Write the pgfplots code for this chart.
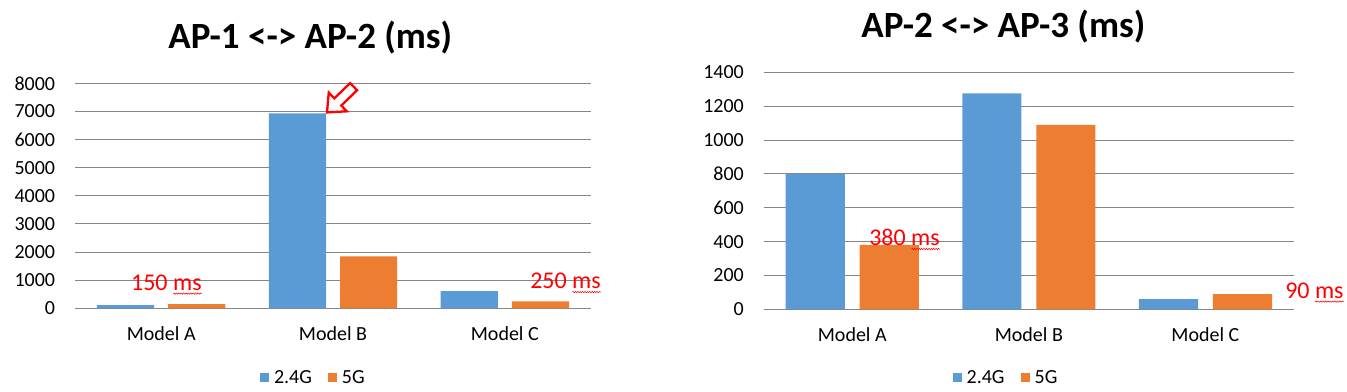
\documentclass[border=0pt]{standalone}
\usepackage{fontspec}
\setmainfont{Carlito}
\usepackage{pgfplots}
\pgfplotsset{compat=1.18}
\usetikzlibrary{decorations.pathmorphing}
\definecolor{cblue}{HTML}{5B9BD5}
\definecolor{corange}{HTML}{ED7D31}
\definecolor{cgrid}{HTML}{868686}
\definecolor{cred}{HTML}{FF0000}

\tikzset{
  redlab/.style={text=cred, font=\fontsize{24}{28}\selectfont, anchor=west, inner sep=0pt},
  wave/.style={cred, line width=0.5pt, decorate, decoration={snake, amplitude=0.7pt, segment length=2.4pt}},
}

\pgfplotsset{
  mystyle/.style={
    scale only axis,
    ymin=0,
    xmin=-0.5, xmax=2.5,
    xtick={0,1,2},
    xticklabels={Model A,Model B,Model C},
    axis line style={draw=none},
    major tick length=0pt,
    ymajorgrids,
    grid style={cgrid, line width=0.9pt},
    tick label style={font=\fontsize{20}{23}\selectfont, text=black},
    /pgf/number format/assume math mode=true,
    /pgf/number format/1000 sep={},
    yticklabel style={anchor=east, inner sep=0pt, xshift=-20pt},
    xticklabel style={anchor=base, inner sep=0pt, yshift=-32.5pt},
    clip=false,
    legend columns=2,
    legend style={draw=none, fill=none, font=\fontsize{20}{23}\selectfont,
      inner sep=0pt, nodes={inner sep=0pt},
      /tikz/every odd column/.append style={column sep=5pt},
      /tikz/every even column/.append style={column sep=16pt}},
    title style={font=\fontsize{37}{42}\selectfont\bfseries, anchor=base, yshift=29pt},
  },
  sq/.style={legend image code/.code={\fill[##1] (0pt,-4.5pt) rectangle (9pt,4.5pt);}},
}

\begin{document}
\begin{tikzpicture}
\useasboundingbox (0,0) rectangle (1347pt,391pt);

% Left chart
\begin{axis}[mystyle,
  at={(75.3pt,82.7pt)}, anchor=south west,
  width=515.4pt, height=225pt,
  ybar=14pt, bar width=57.2pt, sq,
  ymax=8000, ytick={0,1000,...,8000},
  title={AP-1 <-> AP-2 (ms)},
  title style={at={(0.456,1)}},
  legend style={at={(0.460,0)}, anchor=center, yshift=-69.2pt},
]
\addplot[fill=cblue, draw=none] coordinates {(0,117) (1,6930) (2,615)};
\addplot[fill=corange, draw=none] coordinates {(0,150) (1,1850) (2,250)};
\legend{2.4G,5G}
\node[redlab] (a1) at (axis cs:-0.176,917) {150 ms};
\draw[wave] ([xshift=-28.6pt,yshift=-3pt]a1.south east) -- ([yshift=-3pt]a1.south east);
\node[redlab] (a2) at (axis cs:2.147,971) {250 ms};
\draw[wave] ([xshift=-28.6pt,yshift=-3pt]a2.south east) -- ([yshift=-3pt]a2.south east);
\coordinate (tip) at (axis cs:1,6930);
\end{axis}
\begin{scope}[shift={(tip)}, xshift=-6pt, yshift=1pt, rotate=44]
\draw[cred, line width=2.3pt, fill=white, line join=miter]
  (0,0) -- (15pt,13pt) -- (15pt,5pt) -- (37pt,5pt) -- (37pt,-5pt) -- (15pt,-5pt) -- (15pt,-13pt) -- cycle;
\end{scope}

% Right chart
\begin{axis}[mystyle,
  at={(764pt,81.7pt)}, anchor=south west,
  width=529.7pt, height=237pt,
  ybar=14.8pt, bar width=59.2pt, sq,
  ymax=1400, ytick={0,200,...,1400},
  title={AP-2 <-> AP-3 (ms)},
  title style={at={(0.452,1)}},
  legend style={at={(0.455,0)}, anchor=center, yshift=-68.2pt},
]
\addplot[fill=cblue, draw=none] coordinates {(0,800) (1,1275) (2,60)};
\addplot[fill=corange, draw=none] coordinates {(0,380) (1,1090) (2,90)};
\legend{2.4G,5G}
\node[redlab] (b1) at (axis cs:0.095,424) {380 ms};
\draw[wave] ([xshift=-28.6pt,yshift=-3pt]b1.south east) -- ([yshift=-3pt]b1.south east);
\node[redlab] (b2) at (axis cs:2.451,111) {90 ms};
\draw[wave] ([xshift=-28.6pt,yshift=-3pt]b2.south east) -- ([yshift=-3pt]b2.south east);
\end{axis}
\end{tikzpicture}
\end{document}
